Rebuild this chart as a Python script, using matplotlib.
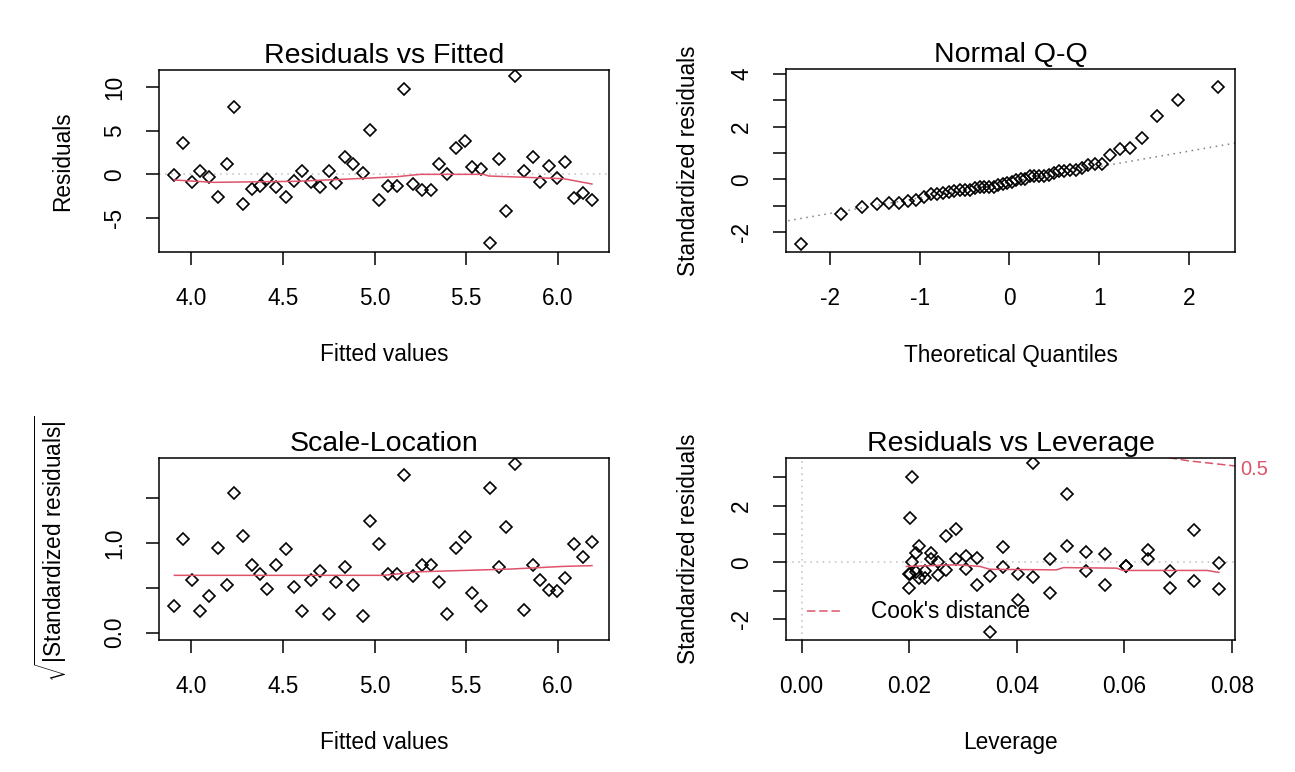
import matplotlib
matplotlib.use('Agg')
import matplotlib.pyplot as plt
from matplotlib.lines import Line2D

# R-like look: Arial metrics, plain hyphen minus
plt.rcParams['font.family'] = ['Liberation Sans', 'DejaVu Sans']
plt.rcParams['axes.unicode_minus'] = False
plt.rcParams['mathtext.fontset'] = 'custom'
plt.rcParams['mathtext.rm'] = 'Liberation Sans'
plt.rcParams['mathtext.it'] = 'Liberation Sans:italic'

# fitted values and raw residuals (Residuals vs Fitted)
fitted = [3.909, 3.958, 4.004, 4.049, 4.096, 4.144, 4.193, 4.235, 4.282, 4.331,
          4.376, 4.416, 4.464, 4.515, 4.562, 4.604, 4.651, 4.700, 4.749, 4.791,
          4.840, 4.885, 4.936, 4.973, 5.022, 5.071, 5.122, 5.162, 5.209, 5.258,
          5.307, 5.349, 5.395, 5.445, 5.493, 5.533, 5.580, 5.627, 5.676, 5.718,
          5.767, 5.813, 5.862, 5.904, 5.949, 5.995, 6.040, 6.085, 6.136, 6.185]
residuals = [-0.11, 3.64, -0.92, 0.38, -0.34, -2.57, 1.15, 7.78, -3.41, -1.69,
             -1.34, -0.54, -1.49, -2.57, -0.73, 0.38, -0.92, -1.42, 0.38, -0.96,
             1.95, 1.15, 0.11, 5.10, -2.95, -1.34, -1.30, 9.85, -1.11, -1.80,
             -1.80, 1.15, 0.04, 3.03, 3.87, 0.80, 0.57, -7.85, 1.80, -4.21,
             11.30, 0.38, 2.03, -0.92, 0.96, -0.46, 1.42, -2.76, -2.11, -2.99]

# standardized residuals and leverage (Q-Q and Residuals vs Leverage)
std_resid = [-0.03, 1.15, -0.29, 0.12, -0.11, -0.80, 0.36, 2.40, -1.06, -0.52,
             -0.41, -0.17, -0.46, -0.79, -0.22, 0.12, -0.28, -0.44, 0.12, -0.29,
             0.58, 0.33, 0.03, 1.56, -0.91, -0.41, -0.40, 3.01, -0.34, -0.55,
             -0.55, 0.35, 0.01, 0.92, 1.18, 0.24, 0.17, -2.44, 0.56, -1.31,
             3.50, 0.11, 0.58, -0.29, 0.30, -0.14, 0.44, -0.90, -0.66, -0.94]
leverage = [0.0777, 0.0730, 0.0686, 0.0644, 0.0604, 0.0565, 0.0529, 0.0494, 0.0462, 0.0431,
            0.0402, 0.0375, 0.0350, 0.0327, 0.0306, 0.0287, 0.0269, 0.0254, 0.0241, 0.0229,
            0.0219, 0.0212, 0.0206, 0.0202, 0.0200, 0.0200, 0.0202, 0.0206, 0.0212, 0.0219,
            0.0229, 0.0241, 0.0254, 0.0269, 0.0287, 0.0306, 0.0327, 0.0350, 0.0375, 0.0402,
            0.0431, 0.0462, 0.0494, 0.0529, 0.0565, 0.0604, 0.0644, 0.0686, 0.0730, 0.0777]

sqrt_abs_std = [0.30, 1.05, 0.59, 0.24, 0.41, 0.95, 0.53, 1.56, 1.08, 0.75,
                0.66, 0.49, 0.75, 0.93, 0.51, 0.24, 0.59, 0.69, 0.21, 0.57,
                0.73, 0.53, 0.19, 1.25, 0.99, 0.66, 0.65, 1.76, 0.63, 0.75,
                0.75, 0.57, 0.21, 0.95, 1.07, 0.44, 0.30, 1.61, 0.73, 1.18,
                1.88, 0.25, 0.75, 0.59, 0.48, 0.46, 0.61, 0.99, 0.85, 1.01]

# theoretical normal quantiles for 50 points
qq_theoretical = [-2.326, -1.881, -1.645, -1.476, -1.341, -1.227, -1.126, -1.036, -0.954, -0.878,
                  -0.806, -0.739, -0.674, -0.613, -0.553, -0.496, -0.440, -0.385, -0.332, -0.279,
                  -0.228, -0.176, -0.126, -0.075, -0.025, 0.025, 0.075, 0.126, 0.176, 0.228,
                  0.279, 0.332, 0.385, 0.440, 0.496, 0.553, 0.613, 0.674, 0.739, 0.806,
                  0.878, 0.954, 1.036, 1.126, 1.227, 1.341, 1.476, 1.645, 1.881, 2.326]
qq_line_x = [-2.6, 2.6]
qq_line_y = [-1.644, 1.424]

# smoother lines (red)
smooth1_x = [3.909, 4.122, 4.576, 4.940, 5.122, 5.249, 5.595, 5.622, 6.031, 6.185]
smooth1_y = [-0.65, -0.92, -0.80, -0.46, -0.27, 0.0, 0.0, -0.19, -0.50, -1.11]
smooth3_x = [3.909, 5.049, 5.249, 5.740, 6.031, 6.185]
smooth3_y = [0.64, 0.64, 0.68, 0.71, 0.74, 0.748]
smooth4_x = [0.0195, 0.0288, 0.0332, 0.0350, 0.0474, 0.0487, 0.0586, 0.0598, 0.0754, 0.0776]
smooth4_y = [-0.14, -0.08, -0.14, -0.24, -0.26, -0.18, -0.20, -0.28, -0.28, -0.35]

# Cook's distance 0.5 contour (top right)
cook_x = [0.0660, 0.0720, 0.0806]
cook_y = [3.76, 3.58, 3.40]

RED = '#DF536B'
GREY = '#BEBEBE'
FS = 16.3
W, H = 1295, 772


def make_axes(fig, left, top, right, bottom):
    return fig.add_axes([left / W, 1 - bottom / H, (right - left) / W, (bottom - top) / H])


def style_axes(ax, xlim, ylim, xticks, xlabels, yticks, ylabels, title, xlabel, ylabel, ylab_x):
    ax.set_xlim(xlim)
    ax.set_ylim(ylim)
    ax.set_xticks(xticks)
    ax.set_xticklabels(xlabels)
    ax.set_yticks(yticks)
    ax.set_yticklabels(ylabels, rotation=90, va='center')
    ax.tick_params(length=9.5, width=1.1, labelsize=FS)
    ax.tick_params(axis='x', pad=16)
    ax.tick_params(axis='y', pad=14)
    for s in ax.spines.values():
        s.set_linewidth(1.1)
    ax.set_title(title, fontsize=20.5, pad=5)
    ax.set_xlabel(xlabel, fontsize=FS, va='baseline')
    ax.xaxis.set_label_coords(0.5, -0.60)
    ax.set_ylabel(ylabel, fontsize=FS)
    ax.yaxis.label.set_va('center')
    ax.yaxis.set_label_coords(ylab_x, 0.5)


def points(ax, x, y):
    ax.plot(x, y, linestyle='none', marker='D', ms=6.3, mfc='none', mec='black', mew=1.2)


fig = plt.figure(figsize=(W / 100, H / 100), dpi=100)

# Residuals vs Fitted
ax1 = make_axes(fig, 159, 70, 609, 252)
ax1.axhline(0, color=GREY, lw=1.1, ls=(0, (1, 3)))
points(ax1, fitted, residuals)
ax1.plot(smooth1_x, smooth1_y, color=RED, lw=1.1)
style_axes(ax1, (3.825, 6.278), (-8.93, 12.0),
           [4.0, 4.5, 5.0, 5.5, 6.0], ['4.0', '4.5', '5.0', '5.5', '6.0'],
           [-5, 0, 5, 10], ['-5', '0', '5', '10'],
           'Residuals vs Fitted', 'Fitted values', 'Residuals', -0.215)

# Normal Q-Q
ax2 = make_axes(fig, 786, 69, 1235, 252)
ax2.plot(qq_line_x, qq_line_y, color='#808080', lw=1.1, ls=(0, (1, 3)))
points(ax2, qq_theoretical, sorted(std_resid))
style_axes(ax2, (-2.49, 2.514), (-2.75, 4.18),
           [-2, -1, 0, 1, 2], ['-2', '-1', '0', '1', '2'],
           [-2, -1, 0, 1, 2, 3, 4], ['-2', '', '0', '', '2', '', '4'],
           'Normal Q-Q', 'Theoretical Quantiles', 'Standardized residuals', -0.218)

# Scale-Location
ax3 = make_axes(fig, 159, 458, 609, 640)
points(ax3, fitted, sqrt_abs_std)
ax3.plot(smooth3_x, smooth3_y, color=RED, lw=1.1)
style_axes(ax3, (3.825, 6.278), (-0.082, 1.95),
           [4.0, 4.5, 5.0, 5.5, 6.0], ['4.0', '4.5', '5.0', '5.5', '6.0'],
           [0.0, 0.5, 1.0, 1.5], ['0.0', '', '1.0', ''],
           'Scale-Location', 'Fitted values',
           r'$\sqrt{|\mathrm{Standardized\ residuals}|}$', -0.24)

# Residuals vs Leverage
ax4 = make_axes(fig, 786, 458, 1235, 640)
ax4.axhline(0, color=GREY, lw=1.1, ls=(0, (1, 3)))
ax4.axvline(0, color=GREY, lw=1.1, ls=(0, (1, 3)))
points(ax4, leverage, std_resid)
ax4.plot(smooth4_x, smooth4_y, color=RED, lw=1.1)
ax4.plot(cook_x, cook_y, color=RED, lw=1.1, ls=(0, (5.5, 2.5)), clip_on=True)
ax4.text(1.012, 3.27, '0.5', color=RED, fontsize=14.5, va='center', ha='left',
         transform=ax4.get_yaxis_transform())
style_axes(ax4, (-0.0029, 0.0806), (-2.73, 3.68),
           [0.0, 0.02, 0.04, 0.06, 0.08], ['0.00', '0.02', '0.04', '0.06', '0.08'],
           [-2, -1, 0, 1, 2, 3], ['-2', '', '0', '', '2', ''],
           'Residuals vs Leverage', 'Leverage', 'Standardized residuals', -0.218)
ax4.legend(handles=[Line2D([], [], color=RED, lw=1.1, ls=(0, (5.5, 2.5)))],
           labels=["Cook's distance"], loc='center left', bbox_to_anchor=(0.046, 0.154),
           frameon=False, borderpad=0, borderaxespad=0, handlelength=1.6,
           handletextpad=1.25, fontsize=FS)

fig.savefig('out.png', dpi=100, facecolor='white')
